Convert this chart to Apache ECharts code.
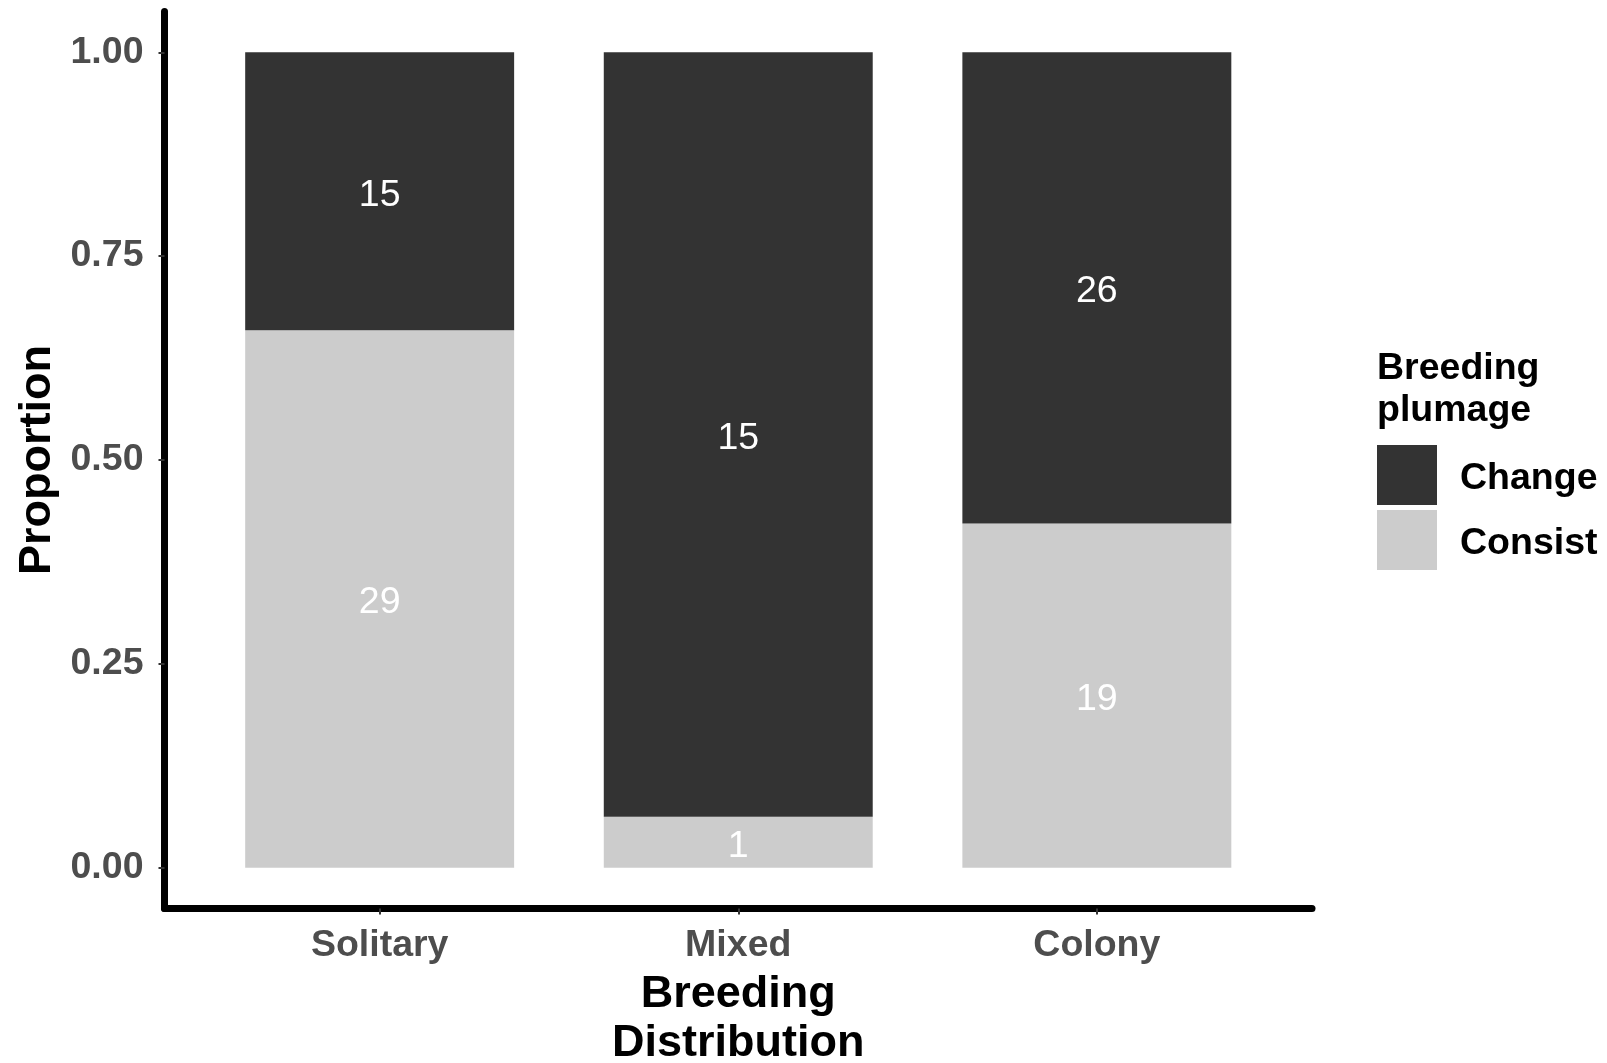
<!DOCTYPE html>
<html>
<head>
<meta charset="utf-8">
<script src="https://cdn.jsdelivr.net/npm/echarts@6/dist/echarts.min.js"></script>
<style>
html,body{margin:0;padding:0;background:#fff;}
#chart{width:1607px;height:1063px;}
</style>
</head>
<body>
<div id="chart"></div>
<script>
const categories = ['Solitary', 'Mixed', 'Colony'];
const changeCounts = [15, 15, 26];
const consistCounts = [29, 1, 19];
const yTicks = [0, 0.25, 0.5, 0.75, 1];
const seriesNames = ['Change', 'Consist'];
const legendTitle = 'Breeding\nplumage';
const xTitle = 'Breeding\nDistribution';
const yTitle = 'Proportion';

const FONT = 'Liberation Sans';
const FS = 37.5;
const totals = categories.map((c, i) => changeCounts[i] + consistCounts[i]);
const consistData = categories.map((c, i) => ({ value: consistCounts[i] / totals[i], count: consistCounts[i] }));
const changeData = categories.map((c, i) => ({ value: changeCounts[i] / totals[i], count: changeCounts[i] }));

// outer grid: x from 0.4 to 3.6 (category units), inner grid: 0.5 to 3.5 (category bands)
const L = 164.5, R = 295, T = 11.5, B = 154.5;
const unit = (1607 - L - R) / 3.2;

const chart = echarts.init(document.getElementById('chart'), null, { renderer: 'canvas' });
const labelCfg = {
  show: true, position: 'inside', offset: [0, 4], color: '#ffffff', fontFamily: FONT, fontSize: FS, fontWeight: 'normal',
  formatter: p => String(p.data.count)
};
chart.setOption({
  backgroundColor: '#ffffff',
  animation: false,
  title: {
    text: legendTitle, left: 1377, top: 348, padding: 0,
    textStyle: { fontFamily: FONT, fontSize: FS, fontWeight: 'bold', color: '#000', lineHeight: 42 }
  },
  legend: {
    orient: 'vertical', left: 1377, top: 445, padding: 0,
    itemWidth: 60, itemHeight: 60, itemGap: 5,
    icon: 'rect',
    data: [seriesNames[0], seriesNames[1]],
    selectedMode: false,
    formatter: name => '{t|' + name + '}',
    textStyle: {
      rich: {
        t: { fontFamily: FONT, fontSize: FS, fontWeight: 'bold', color: '#000', padding: [8, 0, 0, 18] }
      }
    }
  },
  grid: [
    { left: L, right: R, top: T, bottom: B, containLabel: false, outerBoundsMode: 'none' },
    { left: L + 0.1 * unit, right: R + 0.1 * unit, top: T, bottom: B, containLabel: false, outerBoundsMode: 'none' }
  ],
  xAxis: [
    {
      gridIndex: 0, type: 'value', min: 0.4, max: 3.6,
      name: xTitle, nameLocation: 'middle', nameGap: 62, nameMoveOverlap: false,
      nameTextStyle: { fontFamily: FONT, fontSize: 45, fontWeight: 'bold', color: '#000', lineHeight: 49 },
      axisLine: { show: true, onZero: false, lineStyle: { color: '#000', width: 7 } },
      axisTick: { show: true, customValues: [1, 2, 3], length: 6, lineStyle: { color: '#333', width: 2 } },
      axisLabel: {
        customValues: [1, 2, 3], margin: 18,
        fontFamily: FONT, fontSize: FS, fontWeight: 'bold', color: '#4D4D4D',
        formatter: v => categories[Math.round(v) - 1] || ''
      },
      splitLine: { show: false }
    },
    {
      gridIndex: 1, type: 'category', data: categories, boundaryGap: true,
      axisLine: { show: false }, axisTick: { show: false }, axisLabel: { show: false }, splitLine: { show: false }
    }
  ],
  yAxis: [
    {
      gridIndex: 0, type: 'value', min: -0.05, max: 1.05,
      name: yTitle, nameLocation: 'middle', nameGap: 104, nameRotate: 90, nameMoveOverlap: false,
      nameTextStyle: { fontFamily: FONT, fontSize: 45, fontWeight: 'bold', color: '#000' },
      axisLine: { show: true, onZero: false, lineStyle: { color: '#000', width: 7 } },
      axisTick: { show: true, customValues: yTicks, length: 6, lineStyle: { color: '#333', width: 2 } },
      axisLabel: {
        customValues: yTicks, margin: 21,
        fontFamily: FONT, fontSize: FS, fontWeight: 'bold', color: '#4D4D4D',
        formatter: v => v.toFixed(2)
      },
      splitLine: { show: false }
    },
    {
      gridIndex: 1, type: 'value', min: -0.05, max: 1.05,
      axisLine: { show: false }, axisTick: { show: false }, axisLabel: { show: false }, splitLine: { show: false }
    }
  ],
  series: [
    {
      name: seriesNames[1], type: 'bar', stack: 'total', barWidth: '75%', xAxisIndex: 1, yAxisIndex: 1,
      itemStyle: { color: '#CCCCCC' }, label: labelCfg, data: consistData
    },
    {
      name: seriesNames[0], type: 'bar', stack: 'total', barWidth: '75%', xAxisIndex: 1, yAxisIndex: 1,
      itemStyle: { color: '#333333' }, label: labelCfg, data: changeData
    }
  ]
});
</script>
</body>
</html>
